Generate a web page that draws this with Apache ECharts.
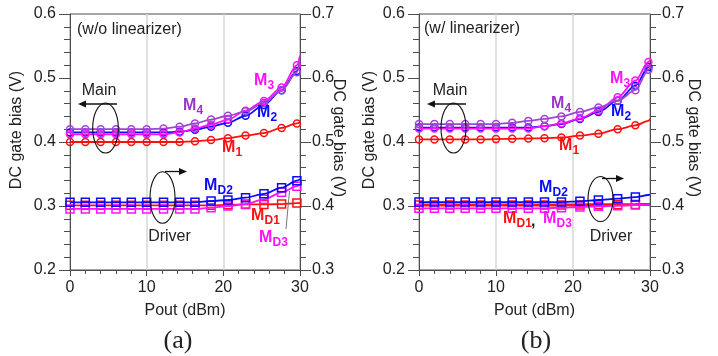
<!DOCTYPE html>
<html><head><meta charset="utf-8">
<script src="https://cdn.jsdelivr.net/npm/echarts@6/dist/echarts.min.js"></script>
<style>html,body{margin:0;padding:0;background:#fff}#c{width:718px;height:356px}</style>
</head><body><div id="c"></div>
<script>
// ---------- data (Pout in dBm; last entry = fitted curve end at 30 dBm, no marker) ----------
const xTickValues = [0, 10, 20, 30];
const leftTicksY = [0.2, 0.3, 0.4, 0.5, 0.6];
const rightTicksY = [0.3, 0.4, 0.5, 0.6, 0.7];

// panel (a) w/o linearizer
const poutA = [0, 2, 4, 6, 8, 10, 12.2, 14.3, 16.3, 18.4, 20.6, 22.9, 25.3, 27.6, 29.6, 30];
const aM1  = [0.400, 0.400, 0.400, 0.400, 0.400, 0.400, 0.400, 0.400, 0.401, 0.403, 0.406, 0.410, 0.414, 0.422, 0.429, 0.431];
const aM2  = [0.415, 0.415, 0.415, 0.415, 0.415, 0.415, 0.415, 0.416, 0.419, 0.424, 0.430, 0.441, 0.458, 0.481, 0.511, 0.525];
const aM3  = [0.412, 0.412, 0.412, 0.412, 0.412, 0.412, 0.412, 0.415, 0.421, 0.427, 0.435, 0.449, 0.464, 0.485, 0.520, 0.535];
const aM4  = [0.420, 0.420, 0.420, 0.420, 0.420, 0.420, 0.421, 0.424, 0.429, 0.435, 0.441, 0.448, 0.461, 0.481, 0.509, 0.527];
const aMD1 = [0.401, 0.401, 0.401, 0.401, 0.401, 0.401, 0.401, 0.401, 0.401, 0.401, 0.402, 0.4025, 0.4025, 0.403, 0.4045, 0.405];
const aMD2 = [0.4057, 0.4057, 0.4057, 0.4057, 0.4057, 0.4057, 0.4057, 0.4057, 0.4057, 0.4078, 0.4094, 0.413, 0.419, 0.4286, 0.4395, 0.442];
const aMD3 = [0.3955, 0.3955, 0.3955, 0.3955, 0.3955, 0.3955, 0.3955, 0.3955, 0.3955, 0.3974, 0.400, 0.403, 0.4104, 0.4213, 0.431, 0.4335];
const aLastMarker = [14, 14, 14, 14, 14, 14, 14]; // M1..M4, MD1..MD3

// panel (b) w/ linearizer
const poutB = [0, 2, 4, 6, 8, 10, 12.1, 14.2, 16.3, 18.5, 20.9, 23.3, 25.8, 28.1, 29.8, 30];
const bM1  = [0.404, 0.404, 0.404, 0.404, 0.404, 0.4045, 0.405, 0.4055, 0.406, 0.407, 0.410, 0.413, 0.420, 0.426, 0.433, 0.436];
const bM2  = [0.4225, 0.4225, 0.4225, 0.4225, 0.4225, 0.4225, 0.4225, 0.4225, 0.4247, 0.428, 0.436, 0.447, 0.4645, 0.488, 0.517, 0.521];
const bM3  = [0.421, 0.421, 0.421, 0.421, 0.421, 0.421, 0.421, 0.421, 0.4247, 0.429, 0.437, 0.449, 0.470, 0.496, 0.525, 0.528];
const bM4  = [0.428, 0.428, 0.428, 0.428, 0.428, 0.428, 0.430, 0.433, 0.436, 0.440, 0.447, 0.454, 0.4645, 0.481, 0.513, 0.516];
const bMD1 = [0.4015, 0.4015, 0.4015, 0.4015, 0.4015, 0.4015, 0.4015, 0.4015, 0.4015, 0.4015, 0.4017, 0.402, 0.402, 0.4022, 0.4024, 0.4026];
const bMD2 = [0.4062, 0.4062, 0.4062, 0.4062, 0.4062, 0.4062, 0.4062, 0.4062, 0.4062, 0.4062, 0.4073, 0.4094, 0.4114, 0.414, 0.4172, 0.418];
const bMD3 = [0.3964, 0.3964, 0.3964, 0.3964, 0.3964, 0.3964, 0.3964, 0.3964, 0.3964, 0.3974, 0.3984, 0.3995, 0.4005, 0.4016, 0.402, 0.4022];
const bLastMarker = [13, 14, 14, 14, 13, 13, 13];

// ---------- style ----------
const RED = '#ff1010', BLUE = '#0a0aff', MAG = '#ff10ff', PUR = '#a044d4';
const PUR_T = '#9933cc';
const AX = '#4d4d4d';
const FONT = 'Liberation Sans, Arial, sans-serif';

function ser(name, xs, ys, last, color, sym, xIdx, yIdx, lw, z) {
  const data = xs.map((x, i) => i <= last ? [x, ys[i]] : { value: [x, ys[i]], symbol: 'none' });
  return {
    name, type: 'line', xAxisIndex: xIdx, yAxisIndex: yIdx, data, z,
    smooth: 0.3, smoothMonotone: 'x',
    symbol: sym, symbolSize: sym === 'rect' ? 8 : 7,
    lineStyle: { color, width: lw },
    itemStyle: { color: 'rgba(255,255,255,0)', borderColor: color, borderWidth: 1.5 },
    emphasis: { disabled: true }, silent: true
  };
}

function xAx(g) {
  return {
    gridIndex: g, type: 'value', min: 0, max: 30, interval: 10,
    axisLine: { show: true, onZero: false, lineStyle: { color: AX } },
    axisTick: { show: true, length: 6, lineStyle: { color: AX } },
    minorTick: { show: true, splitNumber: 5, length: 4, lineStyle: { color: AX } },
    splitLine: { show: true, lineStyle: { color: '#d6d6d6', width: 1.5 } },
    axisLabel: { color: '#222', fontSize: 16, fontFamily: FONT, margin: 10,
      customValues: xTickValues },
    name: 'Pout (dBm)', nameLocation: 'middle', nameGap: 33,
    nameTextStyle: { color: '#222', fontSize: 16, fontFamily: FONT }
  };
}
function yAx(g, pos, ticks) {
  return {
    gridIndex: g, type: 'value', position: pos, min: ticks[0], max: ticks[ticks.length - 1], interval: 0.1,
    axisLine: { show: true, onZero: false, lineStyle: { color: AX } },
    axisTick: { show: true, length: 11, lineStyle: { color: AX } },
    minorTick: { show: true, splitNumber: 5, length: 6, lineStyle: { color: AX } },
    splitLine: { show: false },
    axisLabel: { color: '#222', fontSize: 16, fontFamily: FONT, margin: pos === 'left' ? 14 : 12,
      formatter: v => v.toFixed(1) }
  };
}

// ---------- annotations ----------
const G = [];
function txt(x, y, s, color, size, weight, align, font) {
  G.push({ type: 'text', x, y, z: 100, style: { text: s, fill: color, fontSize: size, fontWeight: weight || 'normal',
    fontFamily: font || FONT, align: align || 'left', verticalAlign: 'middle' } });
}
function mlabel(x, y, sub, color) {
  txt(x, y, 'M', color, 16, 'bold');
  txt(x + 13.5, y + 5, sub, color, 12, 'bold');
}
function ell(cx, cy, rx, ry) {
  G.push({ type: 'ellipse', z: 100, shape: { cx, cy, rx, ry }, style: { fill: 'none', stroke: '#111', lineWidth: 1.1 } });
}
function arrow(x1, y, x2) {
  G.push({ type: 'line', z: 100, shape: { x1, y1: y, x2: x2 + (x2 < x1 ? 6 : -6), y2: y }, style: { stroke: '#111', lineWidth: 1.3 } });
  const d = x2 < x1 ? 8 : -8;
  G.push({ type: 'polygon', z: 100, shape: { points: [[x2, y], [x2 + d, y - 3.5], [x2 + d, y + 3.5]] }, style: { fill: '#111' } });
}
function vname(x, y, rot) {
  G.push({ type: 'text', x, y, rotation: rot, z: 100, style: { text: 'DC gate bias (V)', fill: '#222', fontSize: 16,
    fontFamily: FONT, align: 'center', verticalAlign: 'middle' } });
}

// panel a
txt(77, 30, '(w/o linearizer)', '#222', 16);
txt(99, 91, 'Main', '#222', 16, 'normal', 'center');
arrow(117, 104, 78);
ell(105.5, 128, 12.8, 25);
mlabel(183, 106, '4', PUR_T);
mlabel(254, 81, '3', MAG);
mlabel(257, 113, '2', BLUE);
mlabel(222, 148, '1', RED);
ell(162.5, 197.5, 12.5, 25.8);
arrow(165, 171.5, 187);
txt(169.5, 237, 'Driver', '#222', 16, 'normal', 'center');
mlabel(204, 186, 'D2', BLUE);
mlabel(251, 216, 'D1', RED);
mlabel(259, 238, 'D3', MAG);
G.push({ type: 'line', z: 100, shape: { x1: 286, y1: 229, x2: 289.5, y2: 191 }, style: { stroke: '#777', lineWidth: 1 } });
txt(178, 341, '(a)', '#222', 26, 'normal', 'center', 'Liberation Serif, serif');
vname(17, 130, Math.PI / 2);
vname(338, 138, -Math.PI / 2);

// panel b
txt(424, 29, '(w/ linearizer)', '#222', 16);
txt(450, 91, 'Main', '#222', 16, 'normal', 'center');
arrow(466, 104, 427);
ell(453.5, 128, 12.5, 25);
mlabel(551, 104, '4', PUR_T);
mlabel(610, 79, '3', MAG);
mlabel(611, 112, '2', BLUE);
mlabel(559, 146, '1', RED);
mlabel(539, 188, 'D2', BLUE);
mlabel(503, 219, 'D1', RED);
txt(531, 222, ',', '#222', 16, 'bold');
mlabel(543, 219, 'D3', MAG);
ell(600.5, 199, 12.5, 22.5);
arrow(602, 178.5, 624);
txt(611, 237, 'Driver', '#222', 16, 'normal', 'center');
txt(536, 341, '(b)', '#222', 26, 'normal', 'center', 'Liberation Serif, serif');
vname(370, 130, Math.PI / 2);
vname(693, 138, -Math.PI / 2);

const chart = echarts.init(document.getElementById('c'), null, { renderer: 'canvas' });
chart.setOption({
  animation: false,
  backgroundColor: '#fff',
  grid: [
    { left: 70, top: 14, width: 230, height: 256, show: true, borderColor: AX, borderWidth: 1, backgroundColor: 'transparent' },
    { left: 419, top: 14, width: 231, height: 256, show: true, borderColor: AX, borderWidth: 1, backgroundColor: 'transparent' }
  ],
  xAxis: [xAx(0), xAx(1)],
  yAxis: [yAx(0, 'left', leftTicksY), yAx(0, 'right', rightTicksY), yAx(1, 'left', leftTicksY), yAx(1, 'right', rightTicksY)],
  series: [
    ser('MD1', poutA, aMD1, aLastMarker[4], RED, 'rect', 0, 1, 1.8, 2),
    ser('MD3', poutA, aMD3, aLastMarker[6], MAG, 'rect', 0, 1, 1.8, 3),
    ser('MD2', poutA, aMD2, aLastMarker[5], BLUE, 'rect', 0, 1, 1.8, 4),
    ser('M1', poutA, aM1, aLastMarker[0], RED, 'circle', 0, 0, 1.8, 2),
    ser('M2', poutA, aM2, aLastMarker[1], BLUE, 'circle', 0, 0, 1.8, 3),
    ser('M3', poutA, aM3, aLastMarker[2], MAG, 'circle', 0, 0, 1.8, 4),
    ser('M4', poutA, aM4, aLastMarker[3], PUR, 'circle', 0, 0, 1.8, 5),

    ser('MD1', poutB, bMD1, bLastMarker[4], RED, 'rect', 1, 3, 3, 2),
    ser('MD3', poutB, bMD3, bLastMarker[6], MAG, 'rect', 1, 3, 1.8, 3),
    ser('MD2', poutB, bMD2, bLastMarker[5], BLUE, 'rect', 1, 3, 1.8, 4),
    ser('M1', poutB, bM1, bLastMarker[0], RED, 'circle', 1, 2, 1.8, 2),
    ser('M2', poutB, bM2, bLastMarker[1], BLUE, 'circle', 1, 2, 1.8, 3),
    ser('M3', poutB, bM3, bLastMarker[2], MAG, 'circle', 1, 2, 1.8, 4),
    ser('M4', poutB, bM4, bLastMarker[3], PUR, 'circle', 1, 2, 1.8, 5)
  ],
  graphic: G
});
</script></body></html>
